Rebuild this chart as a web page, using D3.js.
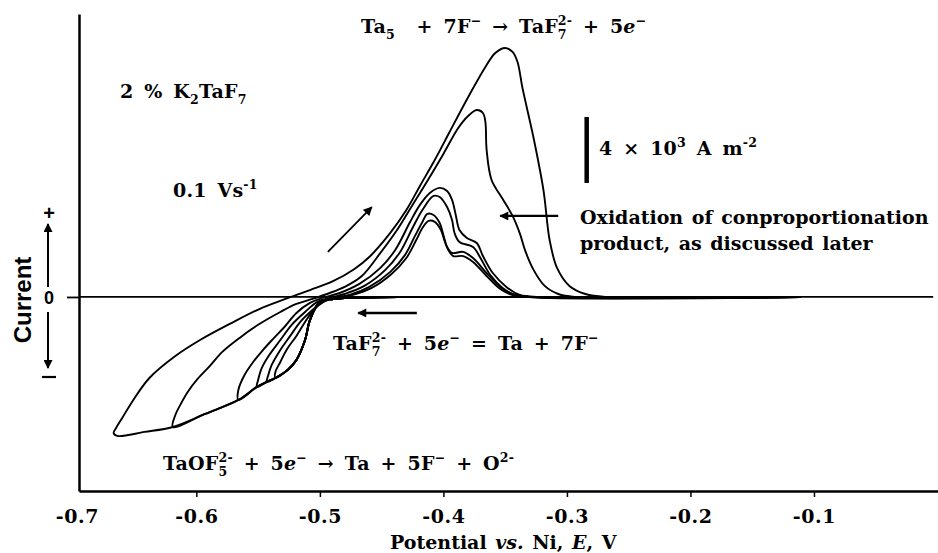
<!DOCTYPE html>
<html>
<head>
<meta charset="utf-8">
<script src="https://cdn.jsdelivr.net/npm/d3@7"></script>
<style>
  body { margin: 0; background: #fff; }
  svg { display: block; }
  text { font-family: "DejaVu Serif", serif; font-weight: bold; fill: #000; white-space: pre;
         letter-spacing: 0.2px; word-spacing: 4px; }
  text.sans { font-family: "Liberation Sans", Arial, sans-serif; letter-spacing: 0; }
  text.note { letter-spacing: 0; word-spacing: 2px; }
</style>
</head>
<body>
<script>
// potential E (V vs Ni) and current density (10^3 A m^-2)

// common cathodic sweep, starting at -0.11 V and running negative
var forwardSweep = [[-0.111,0],[-0.354,0],[-0.435,0],[-0.480,-0.06],[-0.489,-0.12],[-0.500,-0.30],
  [-0.508,-1.39],[-0.512,-2.61],[-0.519,-3.82],[-0.526,-4.42],[-0.536,-4.91],[-0.543,-5.15],
  [-0.551,-5.45],[-0.566,-6.24],[-0.593,-7.09],[-0.619,-7.88],[-0.642,-8.18],[-0.664,-8.42]];

// reverse sweeps, each starting at its switching potential
var reverse1 = [[-0.664,-8.42],[-0.667,-8.25],[-0.665,-7.94],[-0.660,-7.33],[-0.651,-6.24],[-0.638,-4.91],
  [-0.617,-3.58],[-0.597,-2.61],[-0.570,-1.52],[-0.549,-0.73],[-0.528,-0.12],[-0.508,0.42],[-0.489,0.97],
  [-0.472,1.70],[-0.460,2.42],[-0.443,3.88],[-0.430,5.27],[-0.419,6.73],[-0.407,8.30],[-0.395,10.0],
  [-0.379,12.24],[-0.366,13.94],[-0.358,14.79],[-0.350,15.09],[-0.344,14.85],[-0.340,14.24],[-0.336,12.67],
  [-0.327,9.64],[-0.319,6.48],[-0.314,3.45],[-0.308,1.76],[-0.298,0.67],[-0.285,0.18],[-0.269,0],[-0.111,0]];
var reverse2 = [[-0.619,-7.88],[-0.617,-7.15],[-0.613,-6.54],[-0.607,-5.76],[-0.599,-4.97],[-0.589,-4.18],
  [-0.579,-3.33],[-0.565,-2.48],[-0.549,-1.64],[-0.532,-0.91],[-0.519,-0.42],[-0.506,-0.12],[-0.492,0.24],
  [-0.480,0.61],[-0.466,1.27],[-0.451,2.67],[-0.437,4.12],[-0.425,5.58],[-0.413,7.03],[-0.400,8.67],
  [-0.388,10.24],[-0.380,10.97],[-0.373,11.33],[-0.368,11.15],[-0.366,10.6],[-0.365,8.91],[-0.361,7.09],
  [-0.352,5.94],[-0.344,4.91],[-0.338,3.82],[-0.334,2.85],[-0.327,1.64],[-0.318,0.67],[-0.307,0.18],
  [-0.294,0],[-0.111,0]];
var reverse3 = [[-0.566,-6.24],[-0.566,-5.64],[-0.561,-4.73],[-0.554,-3.94],[-0.546,-3.21],[-0.538,-2.55],
  [-0.528,-1.76],[-0.519,-0.97],[-0.508,-0.36],[-0.498,-0.06],[-0.484,0.24],[-0.468,0.79],[-0.451,1.76],
  [-0.439,2.85],[-0.427,4.54],[-0.419,5.58],[-0.411,6.30],[-0.403,6.61],[-0.397,6.42],[-0.393,5.88],
  [-0.390,4.97],[-0.387,4.06],[-0.381,3.58],[-0.373,3.27],[-0.368,2.48],[-0.360,1.45],[-0.349,0.61],
  [-0.338,0.12],[-0.322,0],[-0.111,0]];
var reverse4 = [[-0.551,-5.45],[-0.550,-5.03],[-0.547,-4.30],[-0.541,-3.52],[-0.532,-2.61],[-0.523,-1.70],
  [-0.512,-0.91],[-0.502,-0.30],[-0.492,-0.06],[-0.480,0.18],[-0.464,0.67],[-0.447,1.64],[-0.435,2.73],
  [-0.425,4.18],[-0.417,5.27],[-0.408,6.12],[-0.403,6.06],[-0.397,5.45],[-0.393,4.67],[-0.391,3.88],
  [-0.387,3.33],[-0.376,3.03],[-0.370,2.36],[-0.362,1.33],[-0.352,0.55],[-0.342,0.12],[-0.326,0],[-0.111,0]];
var reverse5 = [[-0.543,-5.15],[-0.542,-4.79],[-0.539,-4.12],[-0.532,-3.21],[-0.524,-2.36],[-0.516,-1.52],
  [-0.506,-0.79],[-0.498,-0.30],[-0.488,-0.06],[-0.476,0.12],[-0.460,0.61],[-0.443,1.52],[-0.431,2.55],
  [-0.423,3.70],[-0.417,4.54],[-0.413,5.03],[-0.408,4.97],[-0.403,4.48],[-0.400,3.76],[-0.397,3.03],
  [-0.393,2.67],[-0.384,2.73],[-0.376,2.36],[-0.365,1.45],[-0.354,0.61],[-0.344,0.18],[-0.330,0],[-0.111,0]];
var reverse6 = [[-0.536,-4.91],[-0.536,-4.54],[-0.532,-3.94],[-0.527,-3.21],[-0.519,-2.36],[-0.512,-1.52],
  [-0.505,-0.79],[-0.497,-0.30],[-0.487,-0.06],[-0.474,0.12],[-0.458,0.55],[-0.442,1.39],[-0.430,2.36],
  [-0.422,3.45],[-0.417,4.18],[-0.412,4.61],[-0.407,4.55],[-0.402,4.06],[-0.399,3.39],[-0.396,2.85],
  [-0.392,2.48],[-0.384,2.48],[-0.376,2.12],[-0.365,1.27],[-0.354,0.48],[-0.344,0.12],[-0.331,0],[-0.111,0]];

var reverseSweeps = [reverse1, reverse2, reverse3, reverse4, reverse5, reverse6];

var xTicks = [-0.7, -0.6, -0.5, -0.4, -0.3, -0.2, -0.1];
var xTickLabels = ["-0.7", "-0.6", "-0.5", "-0.4", "-0.3", "-0.2", "-0.1"];

var width = 938, height = 553;
var fs = 19;

var svg = d3.select("body").append("svg")
    .attr("width", width)
    .attr("height", height);

var x = d3.scaleLinear().domain([-0.695, 0]).range([79, 937.5]);
var y = d3.scaleLinear().domain([-11.76, 17.15]).range([491, 14]);

var defs = svg.append("defs");
defs.append("marker")
    .attr("id", "head")
    .attr("viewBox", "0 0 10 10")
    .attr("refX", 9).attr("refY", 5)
    .attr("markerWidth", 11).attr("markerHeight", 9)
    .attr("markerUnits", "userSpaceOnUse")
    .attr("orient", "auto")
  .append("path")
    .attr("d", "M0,0 L10,5 L0,10 z")
    .attr("fill", "#000");

// axes
var xAxis = svg.append("g")
    .attr("transform", "translate(0," + y(-11.76) + ")")
    .call(d3.axisBottom(x).tickValues(xTicks).tickSize(6).tickSizeOuter(0)
      .tickFormat(function(d, i) { return xTickLabels[i]; }));
xAxis.select(".domain").attr("stroke-width", 2.5);
xAxis.selectAll(".tick line").attr("stroke-width", 1.5)
    .filter(function(d) { return d < x.domain()[0]; }).remove();
xAxis.selectAll(".tick text")
    .style("font-family", "DejaVu Serif").style("font-size", fs + "px")
    .style("letter-spacing", "0.6px")
    .attr("dy", "1.2em")
    .attr("dx", function(d) { return d < x.domain()[0] ? 4 : 0; });

var yAxis = svg.append("g")
    .attr("transform", "translate(" + x(-0.695) + ",0)")
    .call(d3.axisLeft(y).tickValues([0]).tickSize(12).tickSizeOuter(0).tickFormat(""));
yAxis.select(".domain").attr("stroke-width", 2.5);
yAxis.selectAll(".tick line").attr("stroke-width", 1.8);

// zero-current line
svg.append("line")
    .attr("x1", x(-0.695)).attr("x2", x(-0.0035))
    .attr("y1", y(0)).attr("y2", y(0))
    .attr("stroke", "#000").attr("stroke-width", 1.8);

// voltammograms
var line = d3.line()
    .x(function(d) { return x(d[0]); })
    .y(function(d) { return y(d[1]); })
    .curve(d3.curveCatmullRom.alpha(0.5));

reverseSweeps.forEach(function(rev) {
  var switchE = rev[0][0];
  var pts = forwardSweep.filter(function(d) { return d[0] > switchE; }).concat(rev);
  svg.append("path")
      .attr("d", line(pts))
      .attr("fill", "none")
      .attr("stroke", "#000")
      .attr("stroke-width", 1.9)
      .attr("stroke-linejoin", "round");
});

// arrows
function arrow(e1, i1, e2, i2, w) {
  svg.append("line")
      .attr("x1", x(e1)).attr("y1", y(i1))
      .attr("x2", x(e2)).attr("y2", y(i2))
      .attr("stroke", "#000").attr("stroke-width", w || 2)
      .attr("marker-end", "url(#head)");
}
arrow(-0.4935, 2.73, -0.458, 5.45, 1.8);   // sweep direction
arrow(-0.307, 4.91, -0.354, 4.91, 2.2);    // conproportionation shoulder
arrow(-0.4215, -0.97, -0.469, -0.97, 2.6); // deposition

// scale bar, 4 x 10^3 A m^-2
svg.append("line")
    .attr("x1", x(-0.284)).attr("x2", x(-0.284))
    .attr("y1", y(6.91)).attr("y2", y(10.91))
    .attr("stroke", "#000").attr("stroke-width", 4.5);

// rich text with sub/superscripts
function rich(x0, y0, parts, size, cls) {
  var g = svg.append("g").attr("transform", "translate(" + x0 + "," + y0 + ")");
  var cx = 0;
  parts.forEach(function(p) {
    if (typeof p === "string") p = { t: p };
    var w = 0;
    if (p.t !== undefined) {
      var t = g.append("text").attr("class", cls || null).attr("x", cx)
          .style("font-size", size + "px").text(p.t);
      if (p.i) t.style("font-style", "italic");
      w = t.node().getComputedTextLength();
    }
    if (p.sup !== undefined) {
      var s = g.append("text").attr("x", cx).attr("y", -0.42 * size)
          .style("font-size", (0.66 * size) + "px").text(p.sup);
      w = Math.max(w, s.node().getComputedTextLength());
    }
    if (p.sub !== undefined) {
      var b = g.append("text").attr("x", cx).attr("y", 0.3 * size)
          .style("font-size", (0.66 * size) + "px").text(p.sub);
      w = Math.max(w, b.node().getComputedTextLength());
    }
    cx += w;
  });
  return g;
}

rich(361, 33, ["Ta", { sub: "5" }, "  + 7F", { sup: "\u2212" }, " \u2192 TaF", { sub: "7", sup: "2-" },
  " + 5", { t: "e", i: true }, { sup: "\u2212" }], fs);
rich(120, 98, ["2 % K", { sub: "2" }, "TaF", { sub: "7" }], fs);
rich(173, 197, ["0.1 Vs", { sup: "-1" }], fs);
rich(599, 155, ["4 \u00d7 10", { sup: "3" }, " A m", { sup: "-2" }], fs);
rich(580, 224, ["Oxidation of conproportionation"], fs, "note");
rich(580, 250, ["product, as discussed later"], fs, "note");
rich(333, 350, ["TaF", { sub: "7", sup: "2-" }, " + 5", { t: "e", i: true }, { sup: "\u2212" },
  " = Ta + 7F", { sup: "\u2212" }], fs);
rich(163, 470, ["TaOF", { sub: "5", sup: "2-" }, " + 5", { t: "e", i: true }, { sup: "\u2212" },
  " \u2192 Ta + 5F", { sup: "\u2212" }, " + O", { sup: "2-" }], fs);
rich(390, 549, ["Potential ", { t: "vs.", i: true }, " Ni, ", { t: "E", i: true }, ", V"], fs, "note");

// current sign indicator
svg.append("text")
    .attr("class", "sans")
    .attr("transform", "translate(31,300) rotate(-90)")
    .attr("text-anchor", "middle")
    .style("font-size", "24px")
    .text("Current");
svg.append("text").attr("class", "sans").attr("x", 49).attr("y", 220).attr("text-anchor", "middle")
    .style("font-size", "20px").text("+");
svg.append("text").attr("class", "sans").attr("x", 49).attr("y", 304).attr("text-anchor", "middle")
    .style("font-size", "18px").text("0");
svg.append("line").attr("x1", 42).attr("x2", 56).attr("y1", 377).attr("y2", 377)
    .attr("stroke", "#000").attr("stroke-width", 2.2);
svg.append("line").attr("x1", 48).attr("x2", 48).attr("y1", 287).attr("y2", 224)
    .attr("stroke", "#000").attr("stroke-width", 2).attr("marker-end", "url(#head)");
svg.append("line").attr("x1", 48).attr("x2", 48).attr("y1", 312).attr("y2", 368)
    .attr("stroke", "#000").attr("stroke-width", 2).attr("marker-end", "url(#head)");
</script>
</body>
</html>
